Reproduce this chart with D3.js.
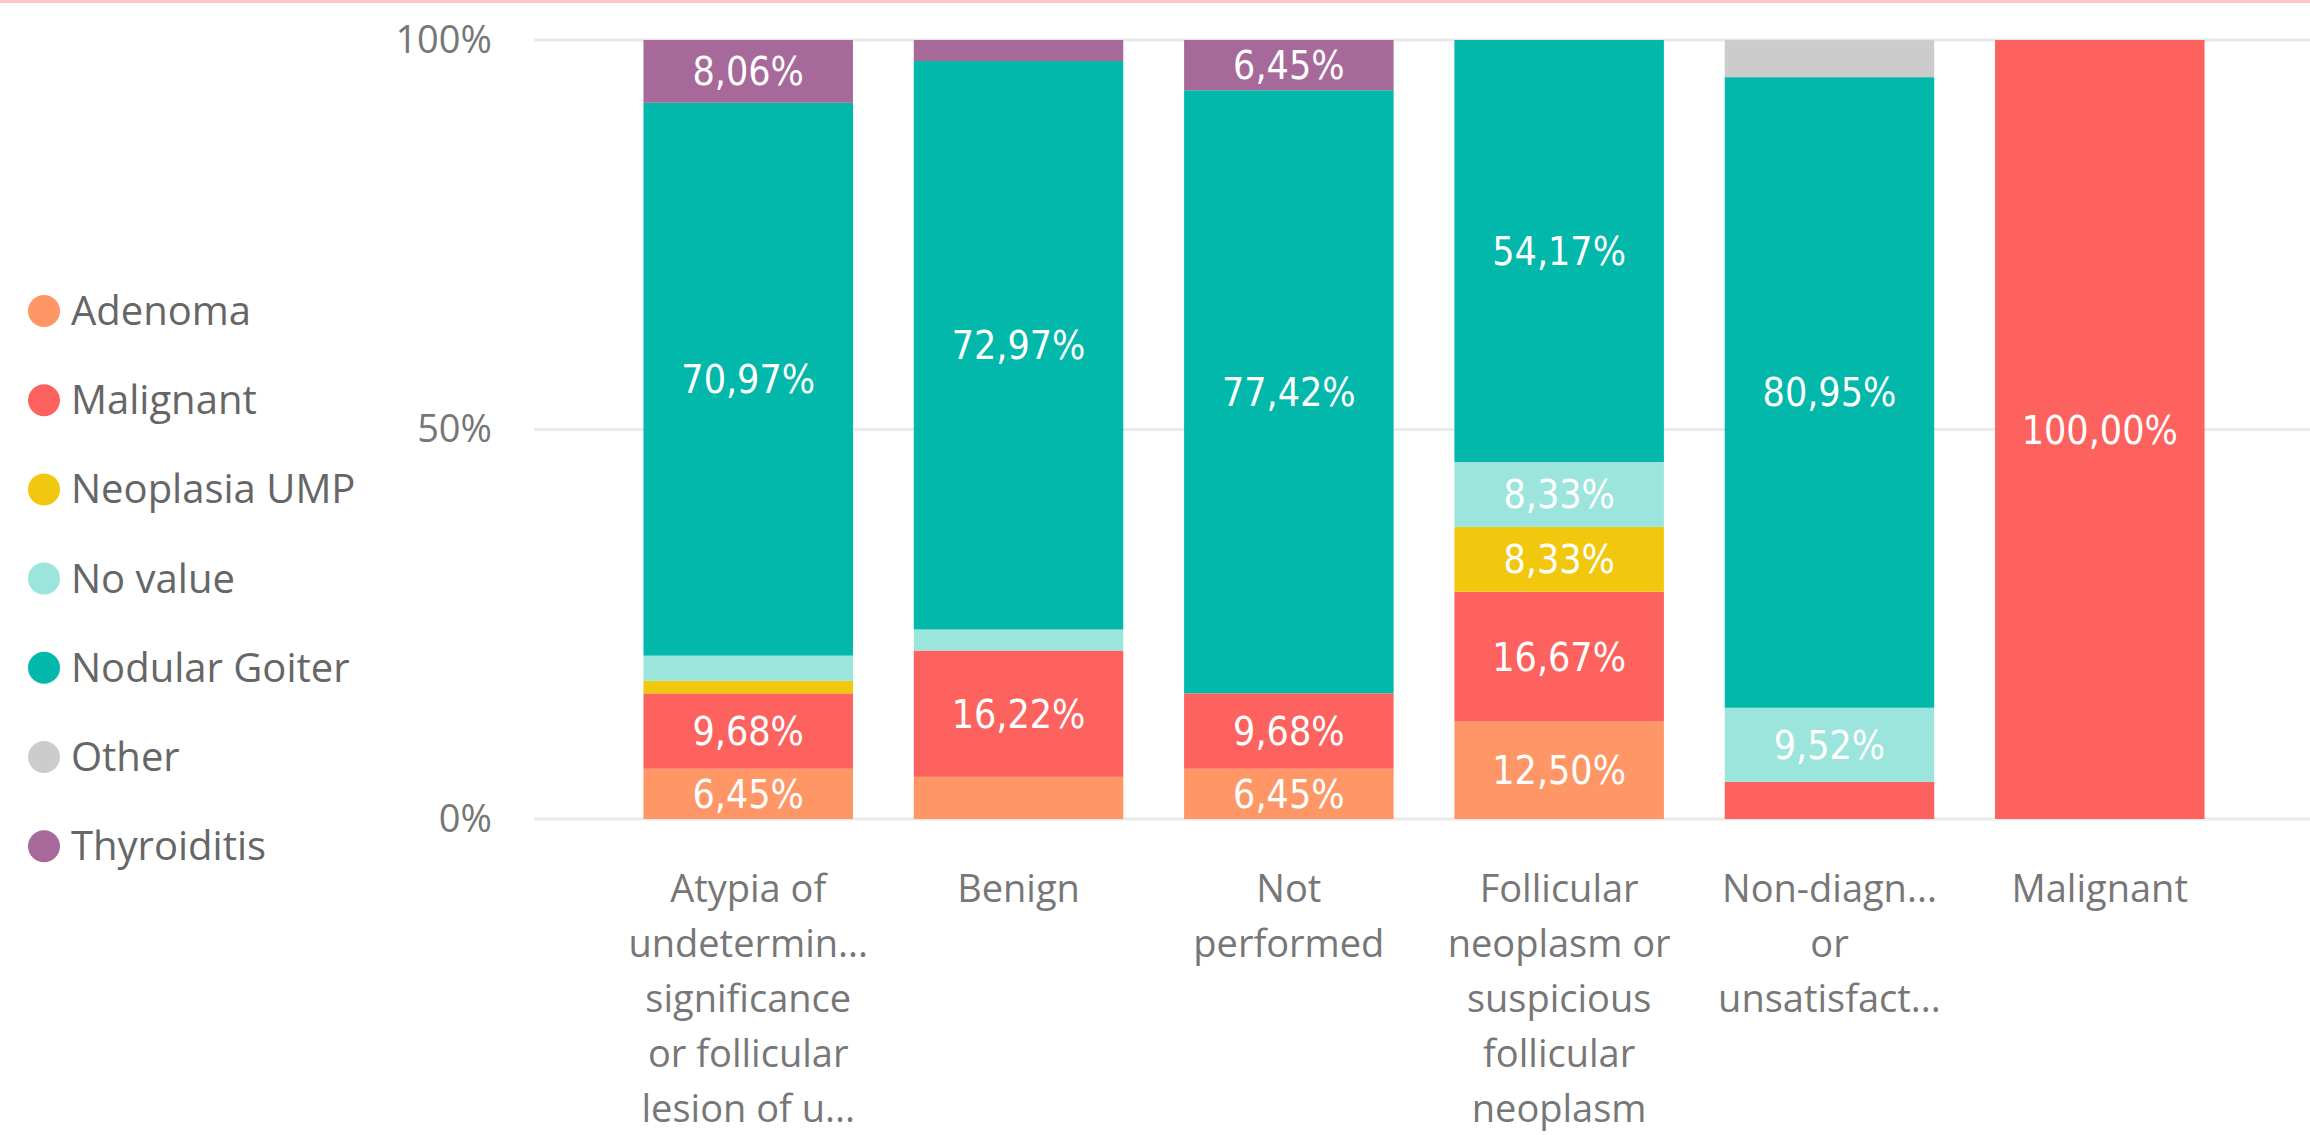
<!DOCTYPE html>
<html>
<head>
<meta charset="utf-8">
<script src="https://cdn.jsdelivr.net/npm/d3@7"></script>
<style>
  html, body { margin: 0; padding: 0; background: #fff; }
  svg { display: block; }
</style>
</head>
<body>
<svg id="chart"></svg>
<script>
var W = 2310, H = 1135;

// categories as shown on the axis (Power BI truncates long names)
var categories = ["Atypia", "Benign", "Not performed", "Follicular", "Non-diagnostic", "Malignant"];
var categoryLines = [
  ["Atypia of", "undetermin...", "significance", "or follicular", "lesion of u..."],
  ["Benign"],
  ["Not", "performed"],
  ["Follicular", "neoplasm or", "suspicious", "follicular", "neoplasm"],
  ["Non-diagn...", "or", "unsatisfact..."],
  ["Malignant"]
];

var series = ["Adenoma", "Malignant", "Neoplasia UMP", "No value", "Nodular Goiter", "Other", "Thyroiditis"];
var colors = ["#FE9666", "#FD625E", "#F2C80F", "#9CE5DC", "#01B8AA", "#CCCCCC", "#A66999"];

// percent of each category
var adenoma       = [6.45, 5.41, 6.45, 12.50, 0, 0];
var malignant     = [9.68, 16.22, 9.68, 16.67, 4.76, 100];
var neoplasiaUMP  = [1.61, 0, 0, 8.33, 0, 0];
var noValue       = [3.23, 2.70, 0, 8.33, 9.52, 0];
var nodularGoiter = [70.97, 72.97, 77.42, 54.17, 80.95, 0];
var other         = [0, 0, 0, 0, 4.76, 0];
var thyroiditis   = [8.06, 2.70, 6.45, 0, 0, 0];

var yTicks = [0, 50, 100];

var seriesValues = [adenoma, malignant, neoplasiaUMP, noValue, nodularGoiter, other, thyroiditis];

var rows = categories.map(function(c, i) {
  var r = { cat: c };
  series.forEach(function(s, j) { r[s] = seriesValues[j][i]; });
  return r;
});

var svg = d3.select('#chart')
  .attr('width', W)
  .attr('height', H);

// thin pink strip at the top
svg.append('rect')
  .attr('x', 0).attr('y', 0)
  .attr('width', W).attr('height', 3)
  .attr('fill', '#FFC4C4');

var x = d3.scaleBand()
  .domain(categories)
  .range([534, 2314])
  .paddingInner(0.225)
  .paddingOuter(0.405);

var y = d3.scaleLinear()
  .domain([0, 100])
  .range([819, 40]);

var color = d3.scaleOrdinal().domain(series).range(colors);

// gridlines
svg.append('g')
  .selectAll('line')
  .data(yTicks)
  .enter()
  .append('line')
  .attr('x1', 534)
  .attr('x2', W)
  .attr('y1', function(d) { return y(d); })
  .attr('y2', function(d) { return y(d); })
  .attr('stroke', '#EAEAEA')
  .attr('stroke-width', 3);

// y axis labels
var yAxis = d3.axisLeft(y)
  .tickValues(yTicks)
  .tickFormat(function(d) { return d + '%'; })
  .tickSize(0)
  .tickPadding(0);

var yg = svg.append('g')
  .attr('transform', 'translate(492,0)')
  .call(yAxis);
yg.select('.domain').remove();
yg.selectAll('text')
  .attr('fill', '#777')
  .style('font-family', '"Segoe UI", "Open Sans", sans-serif')
  .style('font-size', '38px');

// stacked bars
var stack = d3.stack().keys(series);
var layers = stack(rows);

var layer = svg.append('g')
  .selectAll('g')
  .data(layers)
  .enter()
  .append('g')
  .attr('fill', function(d) { return color(d.key); });

layer.selectAll('rect')
  .data(function(d) { return d; })
  .enter()
  .append('rect')
  .attr('x', function(d) { return x(d.data.cat); })
  .attr('width', x.bandwidth())
  .attr('y', function(d) { return y(d[1]); })
  .attr('height', function(d) { return y(d[0]) - y(d[1]); });

// data labels, only where they fit
var fmt = function(v) { return v.toFixed(2).replace('.', ',') + '%'; };

layer.selectAll('text')
  .data(function(d) { return d.filter(function(p) { return y(p[0]) - y(p[1]) > 46; }); })
  .enter()
  .append('text')
  .attr('x', function(d) { return x(d.data.cat) + x.bandwidth() / 2; })
  .attr('y', function(d) { return (y(d[0]) + y(d[1])) / 2; })
  .attr('dy', '0.36em')
  .attr('text-anchor', 'middle')
  .attr('fill', '#fff')
  .style('font-family', '"DejaVu Sans Condensed", "DejaVu Sans", sans-serif')
  .style('font-stretch', 'condensed')
  .style('font-size', '39px')
  .text(function(d) { return fmt(d[1] - d[0]); });

// category labels
var xg = svg.append('g');
xg.selectAll('text')
  .data(categories)
  .enter()
  .append('text')
  .attr('x', function(d) { return x(d) + x.bandwidth() / 2; })
  .attr('text-anchor', 'middle')
  .attr('fill', '#777')
  .style('font-family', '"Segoe UI", "Open Sans", sans-serif')
  .style('font-size', '38px')
  .each(function(d, i) {
    var t = d3.select(this);
    categoryLines[i].forEach(function(line, k) {
      t.append('tspan')
        .attr('x', x(d) + x.bandwidth() / 2)
        .attr('y', 889 + k * 55)
        .attr('dy', '0.35em')
        .text(line);
    });
  });

// legend
var legend = svg.append('g')
  .selectAll('g')
  .data(series)
  .enter()
  .append('g')
  .attr('transform', function(d, i) { return 'translate(44,' + (311 + i * 89.2) + ')'; });

legend.append('circle')
  .attr('r', 16)
  .attr('fill', function(d) { return color(d); });

legend.append('text')
  .attr('x', 27)
  .attr('dy', '0.35em')
  .attr('fill', '#666')
  .style('font-family', '"Segoe UI", "Open Sans", sans-serif')
  .style('font-size', '40px')
  .text(function(d) { return d; });
</script>
</body>
</html>
